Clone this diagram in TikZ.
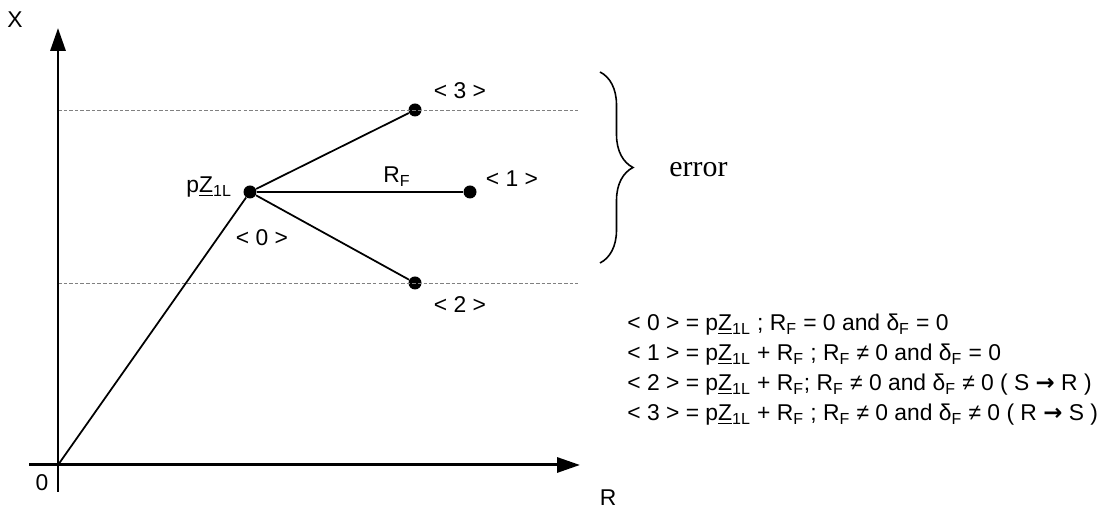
\documentclass[tikz,border=0pt]{standalone}
\usepackage{fontspec}
\setmainfont{Liberation Sans}
\newfontfamily\timesfont{Liberation Serif}
\newfontfamily\arrowfont{DejaVu Sans}
\usetikzlibrary{arrows.meta,decorations.pathreplacing}
\newcommand{\pz}{p\underline{Z}\textsubscript{1L}}
\newcommand{\rf}{R\textsubscript{F}}
\newcommand{\df}{δ\textsubscript{F}}
\newcommand{\goes}{{\arrowfont\bfseries →}}

\begin{document}
\begin{tikzpicture}[x=1cm,y=1cm,>={Triangle[length=13pt,width=8.5pt]},font=\fontsize{13}{15}\selectfont,
 axis/.style={line width=1.7pt},
 leg/.style={line width=1pt},
 pt/.style={circle,fill,inner sep=0pt,minimum size=.26cm},
 guide/.style={gray,dash pattern=on 2pt off 1.2pt,line width=.5pt}]
\useasboundingbox (0,0) rectangle (22.36,10.26);

\coordinate (O) at (1.16,.96);
\coordinate (ybot) at (1.16,.42);
\coordinate (ytop) at (1.16,9.7);
\coordinate (xleft) at (.58,.96);
\coordinate (xright) at (11.6,.96);

\node[pt] (pz) at (5,6.42) {};
\node[pt] (p3) at (8.3,8.06) {};
\node[pt] (p1) at (9.4,6.42) {};
\node[pt] (p2) at (8.3,4.6) {};

\coordinate (g3) at (11.56,8.06);
\coordinate (g2) at (11.56,4.6);
\draw[guide] (O|-p3) -- (g3);
\draw[guide] (O|-p2) -- (g2);

\draw[axis,->] (ybot) -- (ytop);
\draw[axis,->] (xleft) -- (xright);
\node (xlab) at (.3,9.86) {X};
\node (rlab) at (12.16,.3) {R};
\node (olab) at (.84,.6) {0};

\draw[leg] (O) -- (pz);
\foreach \p in {p1,p2,p3}{
 \draw[leg] (pz) -- (\p);
}
\node[anchor=base east] (pzl) at (4.76,6.4) {\pz};
\node[anchor=base] (rfl) at (7.94,6.6) {\rf};
\node (l0) at (5.24,5.5) {< 0 >};
\node (l1) at (10.24,6.68) {< 1 >};
\node (l2) at (9.2,4.16) {< 2 >};
\node (l3) at (9.2,8.45) {< 3 >};

\coordinate (btop) at (12,8.82);
\coordinate (bbot) at (12,5);
\draw[line width=.9pt,decorate,decoration={brace,amplitude=.66cm}] (btop) -- (bbot);
\node[font=\timesfont\fontsize{17}{20}\selectfont] (err) at (13.97,6.86) {error};

\foreach \y/\txt [count=\i] in {3.76/{< 0 > = \pz\ ; \rf\ = 0 and \df\ = 0},
 3.16/{< 1 > = \pz\ + \rf\ ; \rf\ ≠ 0 and \df\ = 0},
 2.56/{< 2 > = \pz\ + \rf; \rf\ ≠ 0 and \df\ ≠ 0 ( S \goes\ R )},
 1.96/{< 3 > = \pz\ + \rf\ ; \rf\ ≠ 0 and \df\ ≠ 0 ( R \goes\ S )}}{
 \node[anchor=west,inner sep=0pt] (def\i) at (12.54,\y) {\txt};
}
\end{tikzpicture}
\end{document}
